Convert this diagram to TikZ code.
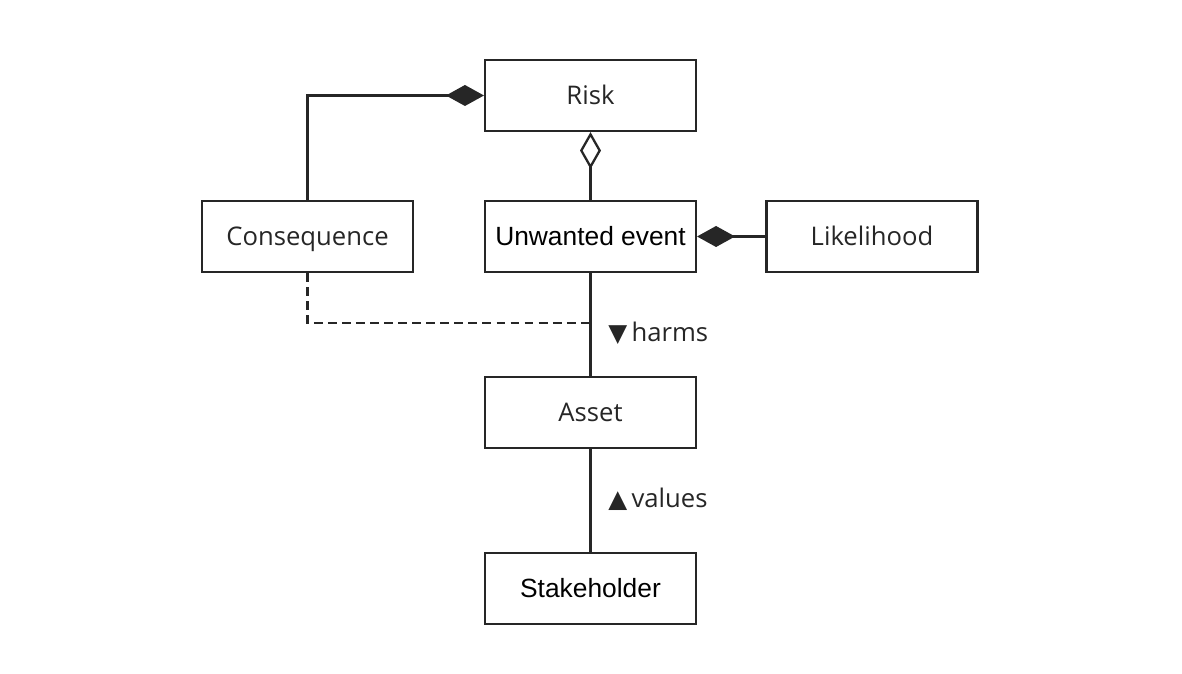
\documentclass[tikz,border=0pt]{standalone}
\usepackage{fontspec}
\setmainfont{Open Sans}
\newfontfamily\arialfont{Liberation Sans}
\newfontfamily\symfont{DejaVu Sans}
\usetikzlibrary{arrows.meta}
\newcommand{\bw}{4.22cm}
\newcommand{\bh}{1.42cm}
\newcommand{\tri}[1]{{\symfont\fontsize{14}{16}\selectfont #1}}
\tikzset{
  box/.style={draw=black!85, line width=1.2pt, minimum width=\bw, minimum height=\bh, inner sep=0pt, text height=13pt, text depth=3pt, text=black!85, font=\fontsize{14.6}{16}\selectfont},
  abox/.style={box, text=black, font=\arialfont\fontsize{15}{16}\selectfont},
  link/.style={draw=black!85, line width=1.3pt},
  comp/.style={link, -{Diamond[length=0.76cm, width=0.42cm]}},
  aggr/.style={link, -{Diamond[open, length=0.74cm, width=0.42cm, fill=white]}},
  lbl/.style={anchor=base west, inner sep=0pt, text=black!85, font=\fontsize{14.6}{16}\selectfont}
}
\begin{document}
\begin{tikzpicture}
    \useasboundingbox (0,0) rectangle (23.64,13.48);
    % classes
    \node[box] (risk) at (11.81,11.57) {Risk};
    \node[box] (cons) at (6.15,8.75) {Consequence};
    \node[abox] (event) at (11.81,8.75) {Unwanted event};
    \node[box] (like) at (17.44,8.75) {Likelihood};
    \node[box] (asset) at (11.81,5.23) {Asset};
    \node[abox] (holder) at (11.81,1.71) {Stakeholder};

    % associations
    \draw[comp] (cons.north) |- (risk.west);
    \draw[aggr] (event.north) -- (risk.south);
    \draw[comp] (like.west) -- (event.east);
    \draw[link] (event.south) -- (asset.north);
    \draw[link] (asset.south) -- (holder.north);

    \coordinate (dashend) at (11.81,7.02);
    \draw[link, dash pattern=on 5pt off 3pt] (cons.south) |- (dashend);

    \node[lbl] (harms) at (12.16,6.64) {\tri{▼}\,harms};
    \node[lbl] (values) at (12.16,3.32) {\tri{▲}\,values};
\end{tikzpicture}
\end{document}
